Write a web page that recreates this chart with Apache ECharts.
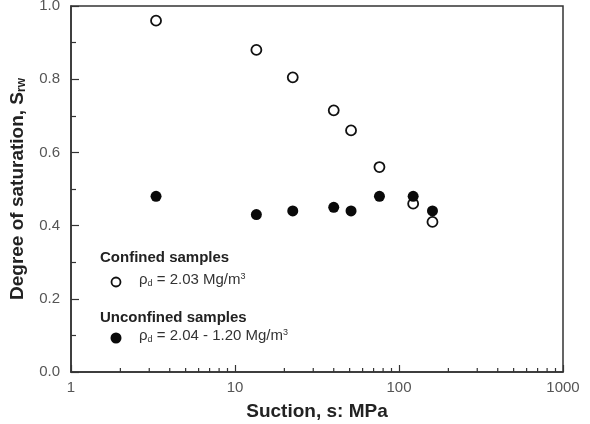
<!DOCTYPE html>
<html>
<head>
<meta charset="utf-8">
<script src="https://cdn.jsdelivr.net/npm/echarts@6/dist/echarts.min.js"></script>
<style>
  html, body { margin: 0; padding: 0; background: #fff; }
  #chart { width: 590px; height: 424px; }
</style>
</head>
<body>
<div id="chart"></div>
<script>
// suction values (MPa), shared by both sample sets
const suction = [3.3, 13.5, 22.5, 40, 51, 76, 122, 160];
// degree of saturation
const srConfined = [0.96, 0.88, 0.805, 0.715, 0.66, 0.56, 0.46, 0.41];
const srUnconfined = [0.48, 0.43, 0.44, 0.45, 0.44, 0.48, 0.48, 0.44];
// minor log ticks on the x axis
const xMinorTicks = [2, 3, 4, 5, 6, 7, 8, 9, 20, 30, 40, 50, 60, 70, 80, 90, 200, 300, 400, 500, 600, 700, 800, 900];

const font = 'Liberation Sans, Arial, sans-serif';
const axisColor = '#333';

const chart = echarts.init(document.getElementById('chart'));

const option = {
  animation: false,
  grid: {
    left: 71, right: 27, top: 6, bottom: 52,
    containLabel: false, outerBoundsMode: 'none',
    show: true, borderColor: axisColor, borderWidth: 1.5
  },
  xAxis: {
    type: 'log', logBase: 10, min: 1, max: 1000,
    name: 'Suction, s: MPa',
    nameLocation: 'middle', nameGap: 30,
    nameTextStyle: { fontFamily: font, fontWeight: 'bold', fontSize: 19, color: '#222' },
    axisLine: { lineStyle: { color: axisColor, width: 1.5 } },
    axisTick: { inside: true, length: 7, lineStyle: { color: axisColor, width: 1.2 } },
    axisLabel: {
      color: '#555', fontFamily: font, fontSize: 15, margin: 8,
      formatter: v => String(Math.round(v))
    },
    splitLine: { show: false }
  },
  yAxis: {
    type: 'value', min: 0, max: 1, interval: 0.2,
    name: 'Degree of saturation, {b|S}{sub|rw}',
    nameLocation: 'middle', nameGap: 43,
    nameTextStyle: {
      fontFamily: font, fontWeight: 'bold', fontSize: 19, color: '#222',
      rich: {
        b: { fontFamily: font, fontWeight: 'bold', fontSize: 19, color: '#222' },
        sub: { fontFamily: font, fontWeight: 'bold', fontSize: 12, color: '#222', padding: [9, 0, 0, 0] }
      }
    },
    axisLine: { show: true, lineStyle: { color: axisColor, width: 1.5 } },
    axisTick: { show: true, inside: true, length: 8, lineStyle: { color: axisColor, width: 1.2 } },
    minorTick: { show: true, splitNumber: 2, length: 5, lineStyle: { color: axisColor, width: 1.2 } },
    axisLabel: {
      color: '#555', fontFamily: font, fontSize: 15, margin: 11,
      formatter: v => v.toFixed(1)
    },
    splitLine: { show: false }
  },
  series: [
    {
      name: 'minor',
      type: 'custom',
      silent: true,
      data: xMinorTicks.map(v => [v, 0]),
      renderItem: (params, api) => {
        const p = api.coord([api.value(0), 0]);
        return {
          type: 'line',
          shape: { x1: p[0], y1: p[1], x2: p[0], y2: p[1] - 4 },
          style: { stroke: axisColor, lineWidth: 1.2 }
        };
      },
      z: 1
    },
    {
      name: 'Confined samples',
      type: 'scatter',
      symbol: 'circle',
      symbolSize: 10,
      data: suction.map((s, i) => [s, srConfined[i]]),
      itemStyle: { color: '#fff', borderColor: '#111', borderWidth: 1.8, opacity: 1 },
      z: 2
    },
    {
      name: 'Unconfined samples',
      type: 'scatter',
      symbol: 'circle',
      symbolSize: 11,
      data: suction.map((s, i) => [s, srUnconfined[i]]),
      itemStyle: { color: '#0a0a0a', opacity: 1 },
      z: 3
    }
  ],
  graphic: [
    {
      type: 'text', left: 100, top: 250,
      style: { text: 'Confined samples', font: 'bold 15px ' + font, fill: '#222' }
    },
    {
      type: 'circle', shape: { cx: 116, cy: 282, r: 4.5 },
      style: { fill: '#fff', stroke: '#111', lineWidth: 1.8 }
    },
    {
      type: 'text', left: 139, top: 272,
      style: {
        text: '{n|ρ}{s|d}{n| = 2.03 Mg/m}{p|3}',
        fill: '#333',
        rich: {
          n: { font: '15px ' + font, fill: '#333' },
          s: { font: '9px ' + font, fill: '#333', padding: [7, 0, 0, 0] },
          p: { font: '9px ' + font, fill: '#333', padding: [0, 0, 7, 0] }
        }
      }
    },
    {
      type: 'text', left: 100, top: 310,
      style: { text: 'Unconfined samples', font: 'bold 15px ' + font, fill: '#222' }
    },
    {
      type: 'circle', shape: { cx: 116, cy: 338, r: 5.5 },
      style: { fill: '#0a0a0a' }
    },
    {
      type: 'text', left: 139, top: 328,
      style: {
        text: '{n|ρ}{s|d}{n| = 2.04 - 1.20 Mg/m}{p|3}',
        fill: '#333',
        rich: {
          n: { font: '15px ' + font, fill: '#333' },
          s: { font: '9px ' + font, fill: '#333', padding: [7, 0, 0, 0] },
          p: { font: '9px ' + font, fill: '#333', padding: [0, 0, 7, 0] }
        }
      }
    }
  ]
};

chart.setOption(option);
window.addEventListener('resize', () => chart.resize());
</script>
</body>
</html>
